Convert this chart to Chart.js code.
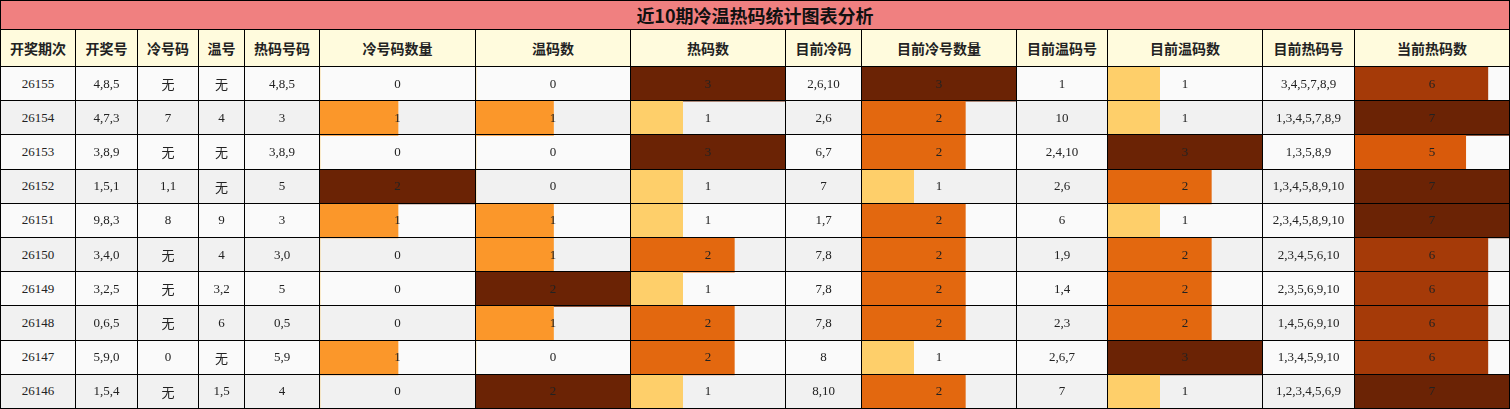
<!DOCTYPE html>
<html><head><meta charset="utf-8">
<script src="https://cdn.jsdelivr.net/npm/chart.js@4/dist/chart.umd.min.js"></script>
<style>
html,body{margin:0;padding:0;background:#fff;}
#wrap{position:relative;width:1510px;height:409px;overflow:hidden;font-family:"Liberation Serif",serif;font-size:13px;color:#222;}
.c{position:absolute;box-sizing:border-box;display:flex;align-items:center;justify-content:center;border-right:1px solid #000;border-bottom:1px solid #000;}
.cjk{font-family:"Noto Sans CJK SC",sans-serif;}
canvas{position:absolute;}
</style></head><body><div id="wrap"></div>
<script>
const title = "近10期冷温热码统计图表分析";
const headers = ["开奖期次","开奖号","冷号码","温号","热码号码","冷号码数量","温码数","热码数","目前冷码","目前冷号数量","目前温码号","目前温码数","目前热码号","当前热码数"];
const periods = ["26155","26154","26153","26152","26151","26150","26149","26148","26147","26146"];
const draws = ["4,8,5","4,7,3","3,8,9","1,5,1","9,8,3","3,4,0","3,2,5","0,6,5","5,9,0","1,5,4"];
const coldNums = ["无","7","无","1,1","8","无","无","无","0","无"];
const warmNums = ["无","4","无","无","9","4","3,2","6","无","1,5"];
const hotNums = ["4,8,5","3","3,8,9","5","3","3,0","5","0,5","5,9","4"];
const coldCount = [0,1,0,2,1,0,0,0,1,0];
const warmCount = [0,1,0,0,1,1,2,1,0,2];
const hotCount = [3,1,3,1,1,2,1,2,2,1];
const curCold = ["2,6,10","2,6","6,7","7","1,7","7,8","7,8","7,8","8","8,10"];
const curColdCount = [3,2,2,1,2,2,2,2,1,2];
const curWarm = ["1","10","2,4,10","2,6","6","1,9","1,4","2,3","2,6,7","7"];
const curWarmCount = [1,1,3,2,1,2,2,2,3,1];
const curHot = ["3,4,5,7,8,9","1,3,4,5,7,8,9","1,3,5,8,9","1,3,4,5,8,9,10","2,3,4,5,8,9,10","2,3,4,5,6,10","2,3,5,6,9,10","1,4,5,6,9,10","1,3,4,5,9,10","1,2,3,4,5,6,9"];
const curHotCount = [6,7,5,7,7,6,6,6,6,7];

const cols = [0,76,138,199,245,320,476,631,786,862,1017,1108,1263,1355,1510];
const colData = [periods,draws,coldNums,warmNums,hotNums,coldCount,warmCount,hotCount,curCold,curColdCount,curWarm,curWarmCount,curHot,curHotCount];
const barCols = {5:2,6:2,7:3,9:3,11:3,13:7};
const top0=67, rowH=(409-67)/10;
const wrap=document.getElementById('wrap');
function cell(x,y,w,h,txt,style){const d=document.createElement('div');d.className='c';Object.assign(d.style,{left:x+'px',top:y+'px',width:w+'px',height:h+'px'},style||{});d.textContent=txt;if(/[\u4e00-\u9fff]/.test(txt))d.classList.add('cjk');wrap.appendChild(d);return d;}
// backgrounds
for(let r=0;r<10;r++){const b=document.createElement('div');Object.assign(b.style,{position:'absolute',left:'0',top:(top0+r*rowH)+'px',width:'1510px',height:rowH+'px',background:r%2?'#f1f1f1':'#fafafa'});wrap.appendChild(b);}
cell(0,0,1510,30,title,{background:'#f08080',fontWeight:'bold',fontSize:'18px',borderLeft:'1px solid #000',borderTop:'1px solid #000',color:'#111'});
for(let i=0;i<14;i++){cell(cols[i],30,cols[i+1]-cols[i],top0-30,headers[i],{background:'#fffbdd',fontWeight:'bold',fontSize:'14px',borderLeft:i==0?'1px solid #000':'none'});}
function colorFor(v,m){const f=v/m;if(f>=0.99)return '#6b2305';if(f>0.8)return '#a53a08';if(f>0.69)return '#d95a0b';if(f>0.6)return '#e3680f';if(f>0.4)return '#fb972a';return '#fecf6a';}
// charts
for(const k in barCols){const i=+k,m=barCols[k];const cv=document.createElement('canvas');const w=cols[i+1]-cols[i];
 const holder=document.createElement('div');Object.assign(holder.style,{position:'absolute',left:cols[i]+'px',top:top0+'px',width:w+'px',height:(409-top0)+'px'});
 holder.appendChild(cv);wrap.appendChild(holder);
 new Chart(cv,{type:'bar',data:{labels:periods,datasets:[{data:colData[i],backgroundColor:colData[i].map(v=>colorFor(v,m)),borderWidth:0,barPercentage:1,categoryPercentage:1}]},
 options:{indexAxis:'y',responsive:true,maintainAspectRatio:false,animation:false,layout:{padding:0},plugins:{legend:{display:false},tooltip:{enabled:false}},
 scales:{x:{display:false,min:0,max:m},y:{display:false}}}});}
// text + borders
for(let r=0;r<10;r++)for(let i=0;i<14;i++){const v=colData[i][r];cell(cols[i],top0+r*rowH,cols[i+1]-cols[i],rowH,String(v),{borderLeft:i==0?'1px solid #000':'none',zIndex:2});}
</script></body></html>
